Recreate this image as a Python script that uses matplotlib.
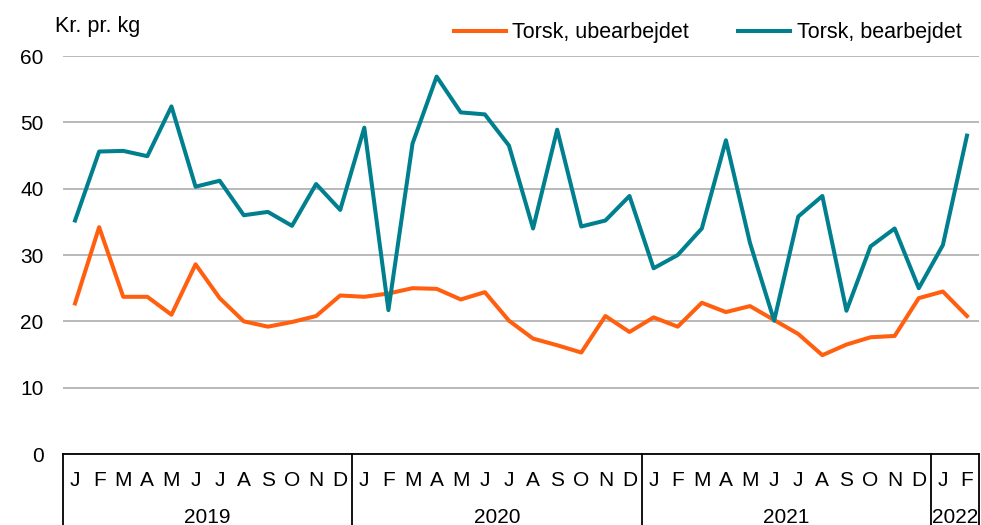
import numpy as np
import matplotlib.pyplot as plt
from matplotlib.transforms import blended_transform_factory

plt.rcParams['font.family'] = ['Liberation Sans', 'DejaVu Sans']

months = ["J", "F", "M", "A", "M", "J", "J", "A", "S", "O", "N", "D"] * 3 + ["J", "F"]
years = ["2019", "2020", "2021", "2022"]
year_len = [12, 12, 12, 2]

# Kr. pr. kg, Jan 2019 - Feb 2022
ubearbejdet = [22.7, 34.2, 23.7, 23.7, 21.0, 28.6, 23.5, 20.0, 19.2, 19.9, 20.8, 23.9,
               23.7, 24.2, 25.0, 24.9, 23.3, 24.4, 20.1, 17.4, 16.4, 15.3, 20.8, 18.4,
               20.6, 19.2, 22.8, 21.4, 22.3, 20.2, 18.1, 14.9, 16.5, 17.6, 17.8, 23.5,
               24.5, 20.8]
bearbejdet = [35.2, 45.6, 45.7, 44.9, 52.4, 40.3, 41.2, 36.0, 36.5, 34.4, 40.7, 36.8,
              49.2, 21.7, 46.8, 56.9, 51.5, 51.2, 46.5, 34.0, 48.9, 34.3, 35.2, 38.9,
              28.0, 30.0, 34.0, 47.3, 31.8, 20.1, 35.8, 38.9, 21.6, 31.3, 34.0, 25.0,
              31.5, 48.0]

fig = plt.figure(figsize=(9.81, 5.25), dpi=100)
ax = fig.add_axes([0.0642, 0.1352, 0.9338, 0.7581])

x = np.arange(len(months))
ax.plot(x, ubearbejdet, color="#FF5F0F", lw=2.9, label="Torsk, ubearbejdet")
ax.plot(x, bearbejdet, color="#00808F", lw=2.9, label="Torsk, bearbejdet")

ax.set_xlim(-0.5, len(months) - 0.5)
ax.set_ylim(0, 60)
ax.set_yticks(range(0, 61, 10))
ax.yaxis.grid(True, color="#a6a6a6", lw=1.1)
ax.set_axisbelow(True)
ax.tick_params(axis="y", length=0, pad=14, labelsize=15)
ax.set_xticks([])
for s in ["top", "right", "left"]:
    ax.spines[s].set_visible(False)
ax.spines["bottom"].set_color("black")
ax.spines["bottom"].set_linewidth(1.3)

trans = blended_transform_factory(ax.transData, ax.transAxes)
for i, m in enumerate(months):
    ax.text(i, -0.067, m, transform=trans, ha="center", va="center", fontsize=15)

start = 0
edges = [-0.5]
for yr, n in zip(years, year_len):
    ax.text(start + (n - 1) / 2, -0.16, yr, transform=trans, ha="center", va="center",
            fontsize=15)
    start += n
    edges.append(start - 0.5)
for e in edges:
    ax.plot([e, e], [0, -0.2], transform=trans, color="black", lw=1.3, clip_on=False)

ax.text(-0.0087, 1.075, "Kr. pr. kg", transform=ax.transAxes, ha="left", va="center",
        fontsize=15.5)

ax.legend(loc="center right", bbox_to_anchor=(0.99, 1.058), ncol=2, frameon=False,
          fontsize=15.5, handlelength=2.4, columnspacing=2.3, handletextpad=0.3,
          borderaxespad=0)

fig.savefig("out.png", dpi=100)
